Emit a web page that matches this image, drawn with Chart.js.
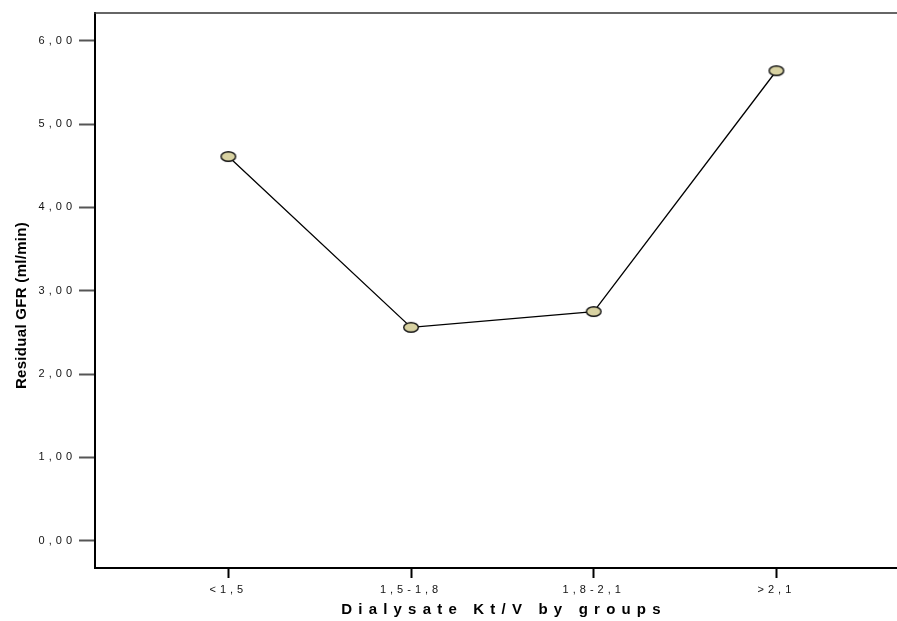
<!DOCTYPE html>
<html><head><meta charset="utf-8">
<script src="https://cdn.jsdelivr.net/npm/chart.js@4"></script>
<style>html,body{margin:0;padding:0;background:#fff}#wrap{width:897px;height:621px}</style>
</head><body><div id="wrap"><canvas id="c" width="897" height="621"></canvas></div>
<script>
// ---- data ----
const categories = ['<1,5', '1,5-1,8', '1,8-2,1', '>2,1'];
const residualGFR = [4.61, 2.56, 2.75, 5.64];
const yTickValues = [0, 1, 2, 3, 4, 5, 6];
const yTickLabels = ['0,00', '1,00', '2,00', '3,00', '4,00', '5,00', '6,00'];
const xTitle = 'Dialysate Kt/V by groups';
const yTitle = 'Residual GFR (ml/min)';

// ---- letter spacing patches ----
const S = Chart.Scale.prototype;
const origLabels = S.drawLabels, origTitle = S.drawTitle;
S.drawLabels = function (ca) {
  const ctx = this.ctx; const p = ctx.letterSpacing;
  ctx.letterSpacing = '4px'; origLabels.call(this, ca); ctx.letterSpacing = p;
};
S.drawTitle = function () {
  const ctx = this.ctx; const p = ctx.letterSpacing;
  ctx.save();
  if (this.axis === 'x') { ctx.letterSpacing = '6.2px'; ctx.translate(8, 0); }
  else { ctx.letterSpacing = '0.3px'; ctx.translate(0, 15); }
  origTitle.call(this);
  ctx.restore(); ctx.letterSpacing = p;
};

// ---- marker ----
const mk = document.createElement('canvas');
mk.width = 18; mk.height = 13;
(function () {
  const g = mk.getContext('2d');
  g.beginPath(); g.ellipse(9, 6.5, 7.3, 4.8, 0, 0, Math.PI * 2);
  g.fillStyle = '#d8d2a2'; g.fill();
  g.lineWidth = 1.4; g.strokeStyle = '#111'; g.stroke();
})();

const topLine = {
  id: 'topLine',
  afterDraw(chart) {
    const { ctx, chartArea: a } = chart;
    ctx.save(); ctx.strokeStyle = '#333'; ctx.lineWidth = 1.5;
    ctx.beginPath(); ctx.moveTo(a.left - 1, a.top); ctx.lineTo(chart.width, a.top); ctx.stroke();
    ctx.restore();
  }
};

new Chart(document.getElementById('c'), {
  type: 'line',
  data: {
    datasets: [{
      data: residualGFR.map((v, i) => ({ x: i, y: v })),
      borderColor: '#000', borderWidth: 1.3,
      pointStyle: mk, pointRadius: 7, pointHoverRadius: 7,
      fill: false, tension: 0
    }]
  },
  options: {
    responsive: false, devicePixelRatio: 1, animation: false,
    layout: { autoPadding: false, padding: { top: 13, left: 0, right: 0, bottom: 0 } },
    plugins: { legend: { display: false }, tooltip: { enabled: false } },
    scales: {
      x: {
        type: 'linear', min: -0.73, max: 3.66,
        afterBuildTicks: s => { s.ticks = categories.map((c, i) => ({ value: i })); },
        afterFit: s => { s.height = 53; s.paddingLeft = 0; s.paddingRight = 0; },
        ticks: {
          callback: v => categories[v] ?? '',
          color: '#111', font: { family: 'Liberation Sans, Arial', size: 11 },
          padding: 5, maxRotation: 0, autoSkip: false
        },
        grid: { drawOnChartArea: false, drawTicks: true, tickLength: 10, tickColor: '#000', tickWidth: 2 },
        border: { color: '#000', width: 2 },
        title: {
          display: true, text: xTitle, color: '#000',
          font: { family: 'Liberation Sans, Arial', size: 15, weight: 'bold' },
          padding: { top: 0, bottom: 2 }
        }
      },
      y: {
        type: 'linear', min: -0.328, max: 6.333,
        afterBuildTicks: s => { s.ticks = yTickValues.map(v => ({ value: v })); },
        afterFit: s => { s.width = 95; s.paddingTop = 0; s.paddingBottom = 0; },
        ticks: {
          callback: v => yTickLabels[yTickValues.indexOf(v)] ?? '',
          color: '#111', font: { family: 'Liberation Sans, Arial', size: 11 },
          padding: 3
        },
        grid: { drawOnChartArea: false, drawTicks: true, tickLength: 16, tickColor: '#555', tickWidth: 2 },
        border: { color: '#000', width: 2 },
        title: {
          display: true, text: yTitle, color: '#000',
          font: { family: 'Liberation Sans, Arial', size: 15, weight: 'bold' },
          padding: { top: 13, bottom: 0 }
        }
      }
    }
  },
  plugins: [topLine]
});
</script>
</body></html>
